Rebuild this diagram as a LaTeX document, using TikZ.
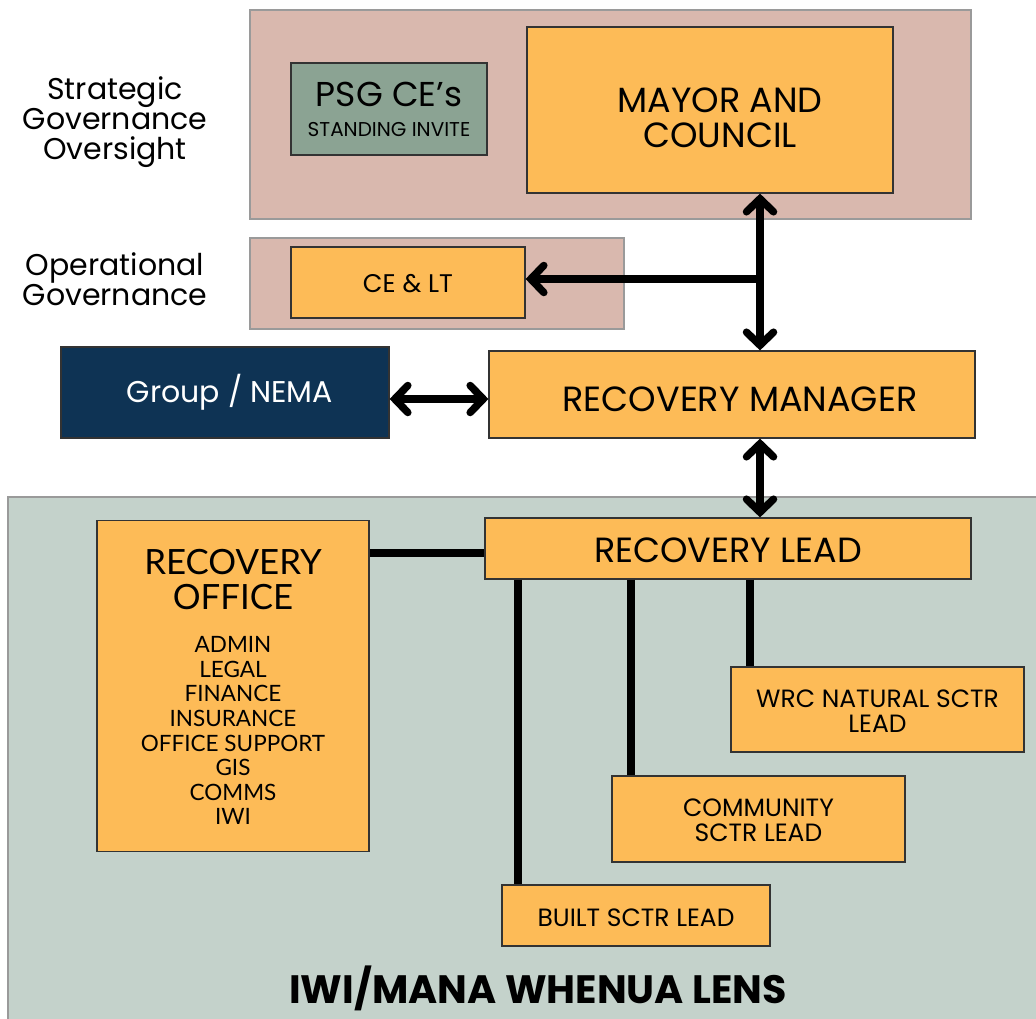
\documentclass[tikz,border=0pt]{standalone}
\usepackage{fontspec}
\setmainfont{Poppins}
\newfontfamily\lato{Lato}
\usetikzlibrary{arrows.meta}
\definecolor{panelpink}{HTML}{D9B8AE}
\definecolor{panelgreen}{HTML}{C4D2CB}
\definecolor{boxorange}{HTML}{FDBB57}
\definecolor{boxsage}{HTML}{8BA393}
\definecolor{navy}{HTML}{0E3354}
\definecolor{panelborder}{HTML}{9A9A9A}
\newcommand{\lowered}[2]{\raisebox{-#1}[\height][\depth]{#2}}
\newcommand{\stacklines}[1]{\begin{tabular}{@{}c@{}}#1\end{tabular}}
\tikzset{
  panel/.style={draw=panelborder, line width=1.5pt},
  obox/.style={draw=black!80, line width=1.2pt, fill=boxorange, align=center},
  conn/.style={line width=7.5pt},
  tip/.style={-{Straight Barb[line cap=round, length=13pt, width=27pt, line width=7.5pt]}},
  tips/.style={{Straight Barb[line cap=round, length=13pt, width=27pt, line width=7.5pt]}-{Straight Barb[line cap=round, length=13pt, width=27pt, line width=7.5pt]}},
}
\begin{document}
\begin{tikzpicture}[x=1pt,y=-1pt]
\useasboundingbox (0,0) rectangle (1036,1019);
% panels
\fill[white] (0,0) rectangle (1036,1019);
\draw[panel, fill=panelpink] (250,10) rectangle (971,219);
\draw[panel, fill=panelpink] (250,238) rectangle (624,329);
\draw[panel, fill=panelgreen] (8,497) rectangle (1040,1025);
% side labels
\node[align=center, font=\fontsize{30}{30}\selectfont] (strat) at (115,122.5) {Strategic\\Governance\\Oversight};
\node[align=center, font=\fontsize{30}{30}\selectfont] (oper) at (115,279) {Operational\\Governance};
% boxes
\node[draw=black!80, line width=1.2pt, fill=boxsage, minimum width=196pt, minimum height=92pt, align=center, font=\fontsize{20}{30}\selectfont] (psg) at (389,109)
  {{\fontsize{34.5}{30}\selectfont PSG CE’s}\\{\fontsize{20}{30}\selectfont STANDING INVITE}};
\node[obox, minimum width=366pt, minimum height=166pt, font=\fontsize{35}{34}\selectfont] (mayor) at (710,110) {\hspace*{20pt}\lowered{13pt}{\stacklines{MAYOR AND\\COUNCIL}}};
\node[obox, minimum width=234pt, minimum height=71pt, font=\fontsize{25.5}{28}\selectfont] (celt) at (408,282.5) {\lowered{1pt}{CE \& LT}};
\node[draw=black!80, line width=1.2pt, fill=navy, text=white, minimum width=328pt, minimum height=91pt, font=\fontsize{30}{30}\selectfont] (nema) at (225,392.5) {\hspace*{10pt}Group / NEMA};
\node[obox, minimum width=486pt, minimum height=87pt, font=\fontsize{35}{36}\selectfont] (rm) at (732,394.5) {\hspace*{16pt}\lowered{4.5pt}{RECOVERY MANAGER}};
\node[obox, minimum width=486pt, minimum height=61pt, font=\fontsize{35}{34}\selectfont] (rl) at (728,548.5) {\lowered{1.5pt}{RECOVERY LEAD}};
\node[obox, minimum width=272pt, minimum height=331pt, anchor=north, inner sep=0pt] (ro) at (233,520) {};
\node[align=center, anchor=north, font=\lato\fontsize{34.8}{35}\selectfont] (rotitle) at (233,546) {RECOVERY\\OFFICE};
\node[align=center, anchor=north, font=\lato\fontsize{22.5}{24.6}\selectfont] (rolist) at (233,633) {ADMIN\\LEGAL\\FINANCE\\INSURANCE\\OFFICE SUPPORT\\GIS\\COMMS\\IWI};
\node[obox, minimum width=293pt, minimum height=85pt, font=\fontsize{25}{24.5}\selectfont] (wrc) at (877.5,709.5) {\lowered{5pt}{\stacklines{WRC NATURAL SCTR\\LEAD}}};
\node[obox, minimum width=293pt, minimum height=86pt, font=\fontsize{25}{24.5}\selectfont] (comm) at (758.5,819) {\lowered{5pt}{\stacklines{COMMUNITY\\SCTR LEAD}}};
\node[obox, minimum width=268pt, minimum height=61pt, font=\fontsize{25}{25}\selectfont] (built) at (636,915.5) {\lowered{2pt}{BUILT SCTR LEAD}};
\node[font=\bfseries\fontsize{39.6}{40}\selectfont] (lens) at (538,988) {IWI/MANA WHENUA LENS};
% connectors
\coordinate (j1) at (760,279);
\draw[conn, tips] (mayor.south -| j1) -- (rm.north -| j1);
\draw[conn, tip] (j1) -- (celt.east |- j1);
\draw[conn, tips] (nema.east |- 0,399) -- (rm.west |- 0,399);
\draw[conn, tips] (rm.south -| j1) -- (rl.north -| j1);
\draw[conn] (ro.east |- 0,553) -- (rl.west |- 0,553);
\draw[conn] (rl.south -| 518,0) -- (built.north -| 518,0);
\draw[conn] (rl.south -| 631,0) -- (comm.north -| 631,0);
\draw[conn] (rl.south -| 750,0) -- (wrc.north -| 750,0);
\end{tikzpicture}
\end{document}
